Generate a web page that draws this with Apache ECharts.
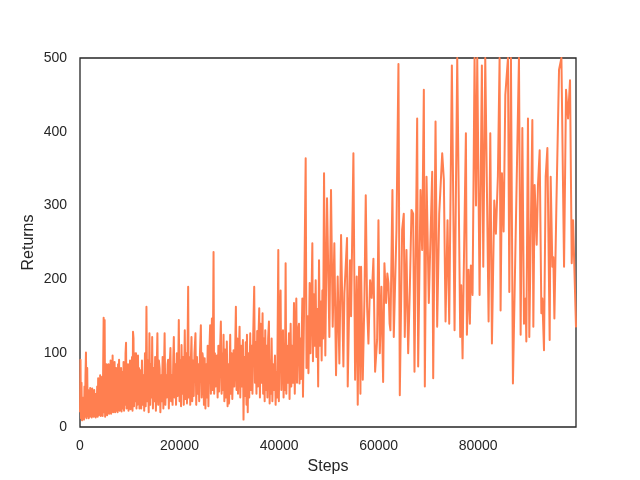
<!DOCTYPE html>
<html>
<head>
<meta charset="utf-8">
<script src="https://cdn.jsdelivr.net/npm/echarts@6/dist/echarts.min.js"></script>
<style>html,body{margin:0;padding:0;background:#fff}#c{width:640px;height:480px}</style>
</head>
<body>
<div id="c"></div>
<script>
// Episode end step (x) and episode return (y)
const steps = [
0,100,200,300,400,500,600,700,800,900,1000,1100,
1200,1300,1450,1550,1650,1750,1850,1950,2050,2150,2250,2350,
2450,2550,2650,2750,2850,2950,3050,3150,3250,3350,3450,3550,
3650,3750,3850,3950,4050,4150,4250,4350,4450,4550,4650,4750,
4850,4950,5050,5150,5250,5350,5450,5550,5650,5750,5850,5950,
6050,6150,6250,6350,6450,6550,6650,6750,6850,6950,7050,7150,
7250,7350,7450,7550,7650,7750,7850,7950,8050,8150,8250,8350,
8450,8550,8650,8750,8850,8950,9050,9150,9250,9350,9450,9550,
9650,9750,9850,9950,10050,10150,10250,10350,10450,10550,10650,10750,
10850,10950,11050,11150,11250,11350,11450,11550,11650,11750,11850,11950,
12150,12300,12450,12600,12750,12900,13050,13200,13350,13500,13650,13800,
13950,14100,14250,14400,14500,14650,14800,14950,15100,15250,15400,15550,
15700,15850,16000,16150,16300,16450,16600,16750,16900,17000,17150,17300,
17450,17600,17700,17850,18000,18170,18300,18450,18600,18750,18850,19000,
19150,19300,19450,19600,19750,19850,20000,20150,20300,20400,20550,20700,
20850,21050,21200,21350,21500,21730,21850,22000,22150,22250,22400,22550,
22700,22850,23000,23200,23350,23500,23650,23800,23950,24100,24280,24450,
24600,
24750,24900,25050,25200,25350,25500,25650,25800,25950,26150,26300,26500,
26650,26830,26950,27100,27250,27400,27500,27650,27800,27950,28100,28300,
28450,28600,28700,28840,29000,29150,29300,29500,29650,29800,29950,30180,
30300,30450,30600,30850,31000,31150,31320,31450,31600,31750,31900,32060,
32200,32350,32500,32600,32730,32850,33000,33150,33300,33450,33540,33700,
33850,34000,34200,34350,34500,34650,34800,35000,35150,35300,35450,35600,
35750,35850,36010,36150,36300,36450,36680,36800,
36950,37100,37220,37350,37500,37650,37800,37960,38100,38250,38350,38500,
38650,38800,38950,39170,39300,39450,39600,39840,39950,40100,40300,40450,
40600,40780,40900,41050,41150,41310,41450,41600,41750,41980,42100,42320,
42450,42600,42800,42990,43150,43300,43460,43600,43800,44000,44100,44250,
44400,44670,44800,45000,45340,45500,45700,45900,46140,46300,46500,46680,
46800,47000,47150,47350,47500,47700,47850,48020,48200,48400,48550,48690,
48850,49030,
49290,49630,50100,50430,50770,51100,51440,51770,52110,52450,52920,53120,
53650,53790,54250,54460,54930,55270,55600,55800,56070,56340,56470,56810,
57140,57410,57680,57950,58280,58610,58950,59290,59690,59960,60230,60560,
60900,61160,61500,61750,61970,62200,62370,62770,63040,63580,63980,64250,
64720,65050,65250,65590,65930,66260,66600,66930,67200,67740,67940,68410,
68740,69080,69280,69620,70080,70760,70960,71430,71760,72170,72770,73100,
73440,73840,74180,74710,75250,75790,76390,76590,76860,77060,77530,77730,
78060,78330,78530,78870,79270,79560,79810,80280,80740,81020,81420,82090,
82430,82760,83230,83560,83960,84300,84500,84770,85110,85450,85980,86250,
86580,86980,88190,88530,88870,89200,89530,89670,90000,90270,90880,91080,
91340,91750,92010,92350,92690,92890,93220,93560,93900,94360,94560,94900,
95100,95310,95710,96240,96720,97250,97650,98050,98450,98790,99060,99650
];
const returns = [
20,91,12,60,9,35,12,40,10,55,14,70,
101,12,80,15,50,12,45,14,53,15,40,13,
52,16,35,14,50,15,45,13,30,17,55,14,
66,16,45,18,70,15,55,20,68,15,80,148,
20,145,14,60,20,85,16,70,22,85,18,60,
24,90,18,70,22,97,20,75,23,88,20,65,
80,22,70,20,85,25,91,22,72,28,80,21,
60,75,25,88,22,70,30,100,114,25,75,30,
85,22,75,35,90,24,80,30,95,22,129,120,
28,100,35,85,100,25,95,30,97,40,80,25,
77,25,90,30,70,22,100,28,163,35,90,20,
127,30,85,40,122,25,80,35,95,22,75,127,
30,90,79,20,70,35,95,25,85,127,30,70,
40,85,91,25,80,107,35,70,30,95,122,40,
85,30,100,42,90,145,35,90,28,111,45,95,
30,131,38,100,32,190,40,95,30,85,122,35,
90,42,100,127,30,95,45,85,35,100,138,40,
100,
91,30,93,25,85,40,110,28,95,138,45,147,
50,237,45,100,55,90,97,40,110,48,95,143,
45,100,50,125,35,105,40,116,28,85,32,125,
45,100,38,104,55,95,163,50,120,45,100,136,
40,110,55,95,118,10,95,42,115,30,125,20,
100,40,127,50,110,45,125,190,60,115,45,130,
55,120,161,40,140,60,154,45,
120,35,131,50,110,40,120,143,32,90,45,120,
35,85,50,97,30,75,40,240,35,120,185,50,
110,131,40,100,50,222,45,110,60,127,38,140,
55,110,60,168,45,120,174,60,130,140,59,120,
65,174,41,150,364,80,150,73,195,100,170,249,
89,180,110,199,95,160,55,226,110,170,90,185,
120,344,
97,310,122,321,136,249,70,204,86,260,82,181,
256,55,226,150,371,64,204,30,217,45,217,64,
172,314,163,113,199,175,228,75,118,280,100,190,
61,222,168,208,195,140,131,321,122,267,492,43,
267,289,122,240,100,185,294,289,75,418,82,321,
240,457,55,339,168,346,66,414,136,289,371,335,
143,280,140,490,131,500,122,192,93,192,398,125,
213,140,219,179,500,300,500,179,490,217,500,143,
398,113,307,262,340,500,158,344,265,450,500,183,
500,59,500,125,405,140,174,116,418,122,416,136,
328,247,328,375,154,174,104,339,378,118,339,217,
230,147,300,484,500,217,457,418,470,222,280,135
];
const xTicks = [0, 20000, 40000, 60000, 80000];
const yTicks = [0, 100, 200, 300, 400, 500];

const data = steps.map((s, i) => [s, returns[i]]);
const chart = echarts.init(document.getElementById('c'), null, {renderer: 'canvas'});
const font = "'Liberation Sans', Arial, sans-serif";
chart.setOption({
  animation: false,
  backgroundColor: '#ffffff',
  grid: {left: 80, right: 64, top: 58, bottom: 53, show: true, borderColor: '#262626', borderWidth: 1.3, backgroundColor: 'transparent'},
  xAxis: {
    type: 'value', min: 0, max: steps[steps.length - 1], interval: 20000,
    axisLine: {show: false}, axisTick: {show: false}, splitLine: {show: false},
    axisLabel: {color: '#262626', fontSize: 14, fontFamily: font, margin: 12,
      formatter: v => xTicks.includes(v) ? String(v) : ''},
    name: 'Steps', nameLocation: 'middle', nameGap: 32, nameMoveOverlap: false,
    nameTextStyle: {color: '#262626', fontSize: 16, fontFamily: font}
  },
  yAxis: {
    type: 'value', min: 0, max: 500, interval: 100,
    axisLine: {show: false}, axisTick: {show: false}, splitLine: {show: false},
    axisLabel: {color: '#262626', fontSize: 14, fontFamily: font, margin: 13,
      formatter: v => yTicks.includes(v) ? String(v) : ''},
    name: 'Returns', nameLocation: 'middle', nameGap: 43, nameMoveOverlap: false,
    nameTextStyle: {color: '#262626', fontSize: 16, fontFamily: font}
  },
  series: [{
    type: 'line', data: data, showSymbol: false, symbol: 'none', clip: true,
    lineStyle: {color: '#ff7f50', width: 2, join: 'round'},
    emphasis: {disabled: true}
  }]
});
</script>
</body>
</html>
